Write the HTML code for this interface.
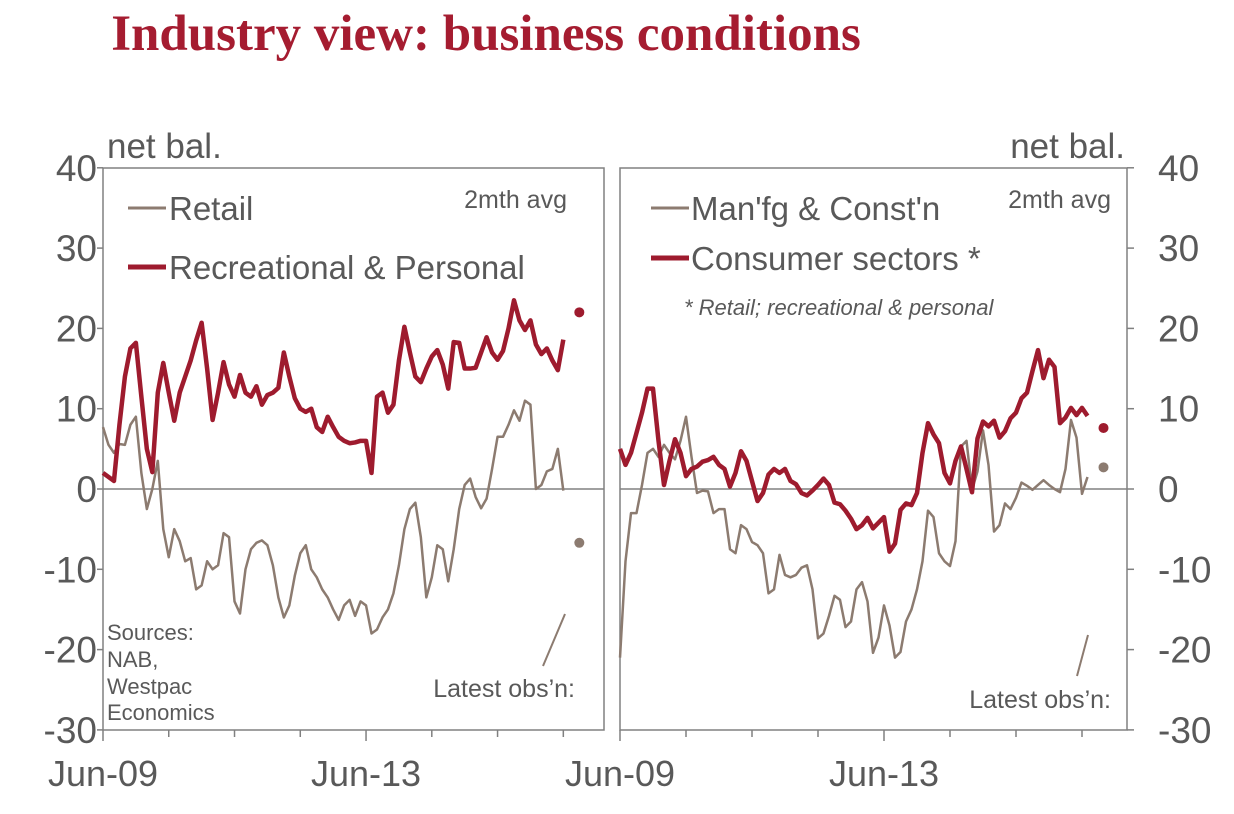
<!DOCTYPE html>
<html><head><meta charset="utf-8"><style>
html,body{margin:0;padding:0;background:#fff;}
svg{display:block;font-family:"Liberation Sans",Arial,sans-serif;}
</style></head><body>
<svg id="chart" width="1234" height="814" viewBox="0 0 1234 814" xmlns="http://www.w3.org/2000/svg">
<text x="486" y="50" text-anchor="middle" font-family="Liberation Serif,serif" font-weight="bold" font-size="51" fill="#a51c30">Industry view: business conditions</text>
<g id="plot"></g>
</svg>
<script>
const yTicks=[40,30,20,10,0,-10,-20,-30];
const xTickLabels=["Jun-09","Jun-13"];
const retail=[7.7,5.5,4.5,5.6,5.5,8,9,2,-2.5,0,3.5,-5,-8.5,-5,-6.5,-9,-8.6,-12.5,-12,-9,-10,-9.5,-5.5,-6,-14,-15.5,-10,-7.5,-6.7,-6.4,-7,-9.5,-13.5,-16,-14.5,-10.8,-8,-7,-10,-11,-12.5,-13.5,-15,-16.3,-14.5,-13.8,-15.8,-14,-14.5,-18,-17.5,-16,-15,-13,-9.5,-5,-2.5,-1.7,-6,-13.5,-11,-7,-7.5,-11.5,-7.5,-2.5,0.5,1.3,-1,-2.4,-1.2,2.5,6.5,6.5,8,9.8,8.5,11,10.5,0,0.5,2.2,2.5,5,-0.2];
const recreational=[2,1.5,1,8,14,17.5,18.2,11.5,5,2.1,12,15.7,12,8.5,12,14,16,18.5,20.7,15,8.6,12,15.8,13,11.5,14.2,12,11.5,12.8,10.5,11.7,12,12.6,17,14,11.3,10,9.6,10,7.7,7.1,9,7.7,6.5,6,5.7,5.8,6,6,2,11.5,12,9.5,10.5,16,20.2,17,14,13.3,15,16.5,17.3,15.5,12.5,18.3,18.2,15,15,15.1,17,18.9,17,16.1,17.2,20,23.5,21,19.8,21,18,16.8,17.5,16,14.8,18.6];
const manfg=[-21,-9,-3,-3,0.5,4.5,5,4,5.5,4.5,3.7,6,9,4,-0.5,-0.2,-0.3,-3,-2.5,-2.5,-7.5,-8,-4.5,-5,-6.6,-7,-8,-13,-12.5,-8.2,-10.7,-11,-10.7,-9.8,-9.5,-12.5,-18.6,-18,-15.8,-13.3,-13.8,-17.2,-16.5,-12.5,-11.6,-14,-20.4,-18.5,-14.5,-17,-21,-20.3,-16.5,-15,-12.5,-9,-2.7,-3.5,-8,-9,-9.6,-6.5,5.3,6,-0.1,2.2,7.3,3,-5.3,-4.5,-1.8,-2.5,-1.1,0.8,0.4,-0.1,0.5,1.1,0.5,0,-0.4,2.5,8.6,6.4,-0.6,1.5];
const consumer=[5,3,4.5,7,9.5,12.5,12.5,6,0.5,3.5,6.2,4.5,1.6,2.5,2.8,3.4,3.6,4,3,2.5,0.3,2,4.7,3.5,1,-1.5,-0.5,1.8,2.5,2,2.5,1,0.6,-0.5,-0.8,-0.2,0.5,1.3,0.5,-1.7,-1.9,-2.7,-3.7,-5,-4.5,-3.6,-4.9,-4.2,-3.5,-7.8,-6.8,-2.6,-1.8,-2,-0.5,4.5,8.2,6.8,5.7,2,0.7,3.5,5.3,2.5,-0.4,6.3,8.4,7.8,8.5,6.4,7.2,8.8,9.5,11.3,12,14.7,17.3,13.8,16.1,15.2,8.2,8.9,10.1,9.2,10.1,9.1];
const latestLeft=[22,-6.7];
const latestRight=[7.6,2.7];

const NS="http://www.w3.org/2000/svg";
const plot=document.getElementById('plot');
const GREY="#8c7b70",RED="#9e1b2e",AX="#808080",TXT="#595959";
function yS(v){return 489-v*8.03;}
function mk(tag,attrs,parent){const e=document.createElementNS(NS,tag);for(const k in attrs)e.setAttribute(k,attrs[k]);(parent||plot).appendChild(e);return e;}
function panel(x0,side,s1,s2,n1,n2,dots,pfx){
  const step=(side==='L'?5.48:5.5);
  const xm=i=>x0+i*step;
  const xr=side==='L'?604:1127;
  const box=mk('rect',{x:x0,y:168,width:xr-x0,height:562,fill:'none',stroke:AX,'stroke-width':1.5});
  
  
  const axX=side==='L'?x0:xr;
  yTicks.forEach(v=>{
    const t=mk('line',{x1:side==='L'?axX-6:axX,x2:side==='L'?axX:axX+7,y1:yS(v),y2:yS(v),stroke:AX,'stroke-width':1.5});
    
    
    const l=mk('text',{x:side==='L'?97:1158,y:yS(v)+13,'text-anchor':side==='L'?'end':'start','font-size':37,fill:TXT});
    l.textContent=v;
    
    
  });
  for(let k=0;k<8;k++){
    const x=xm(k*12);
    const t=mk('line',{x1:x,x2:x,y1:730,y2:(k%4===0)?741:737,stroke:AX,'stroke-width':1.5});
    
    
  }
  xTickLabels.forEach((s,k)=>{
    const l=mk('text',{x:xm(k*48),y:786,'text-anchor':'middle','font-size':36,fill:TXT});
    l.textContent=s;
    
    
  });
  const z=mk('line',{x1:x0,x2:xr,y1:yS(0),y2:yS(0),stroke:AX,'stroke-width':1.5});
  
  
  const p1=mk('polyline',{points:s1.map((v,i)=>xm(i)+','+yS(v)).join(' '),fill:'none',stroke:GREY,'stroke-width':2.5,'stroke-linejoin':'round'});
  
  
  const p2=mk('polyline',{points:s2.map((v,i)=>xm(i)+','+yS(v)).join(' '),fill:'none',stroke:RED,'stroke-width':4.5,'stroke-linejoin':'round'});
  
  
  const dx=xm(s1.length-1)+16;
  const d1=mk('circle',{cx:dx,cy:yS(dots[0]),r:5,fill:RED});
  
  
  const d2=mk('circle',{cx:dx,cy:yS(dots[1]),r:5,fill:GREY});
  
  
}
panel(103,'L',retail,recreational,'retail','recreational',latestLeft,'left');
panel(620,'R',manfg,consumer,'manfg','consumer',latestRight,'right');
</script>
<div style="position:absolute;left:0;top:0;width:1234px;height:814px;pointer-events:none;">
<svg width="1234" height="814" xmlns="http://www.w3.org/2000/svg" style="font-family:'Liberation Sans',Arial,sans-serif;">
<text x="107" y="158" font-size="35" fill="#595959">net bal.</text>
<text x="1125" y="158" text-anchor="end" font-size="35" fill="#595959">net bal.</text>
<g>
<line x1="128" x2="166" y1="208" y2="208" stroke="#8c7b70" stroke-width="3"/>
<text x="169" y="220" font-size="33" fill="#595959">Retail</text>
<line x1="128" x2="166" y1="267" y2="267" stroke="#9e1b2e" stroke-width="5"/>
<text x="169" y="279" font-size="33" fill="#595959">Recreational &amp; Personal</text>
</g>
<text x="567" y="208" text-anchor="end" font-size="25" fill="#595959">2mth avg</text>
<g>
<line x1="651" x2="689" y1="208" y2="208" stroke="#8c7b70" stroke-width="3"/>
<text x="691" y="220" font-size="33" fill="#595959">Man'fg &amp; Const'n</text>
<line x1="651" x2="689" y1="258" y2="258" stroke="#9e1b2e" stroke-width="5"/>
<text x="691" y="270" font-size="33" fill="#595959">Consumer sectors *</text>
</g>
<text x="1111" y="208" text-anchor="end" font-size="25" fill="#595959">2mth avg</text>
<text x="684" y="315" font-size="22" font-style="italic" fill="#595959">* Retail; recreational &amp; personal</text>
<g font-size="22" fill="#595959">
<text x="107" y="640">Sources:</text><text x="107" y="667">NAB,</text><text x="107" y="694">Westpac</text><text x="107" y="720">Economics</text>
</g>
<text x="575" y="697" text-anchor="end" font-size="25" fill="#595959">Latest obs’n:</text>
<line x1="543" y1="666" x2="565" y2="614" stroke="#8c7b70" stroke-width="2"/>
<text x="1111" y="708" text-anchor="end" font-size="25" fill="#595959">Latest obs’n:</text>
<line x1="1077" y1="676" x2="1088" y2="635" stroke="#8c7b70" stroke-width="2"/>
</svg></div>
</body></html>
